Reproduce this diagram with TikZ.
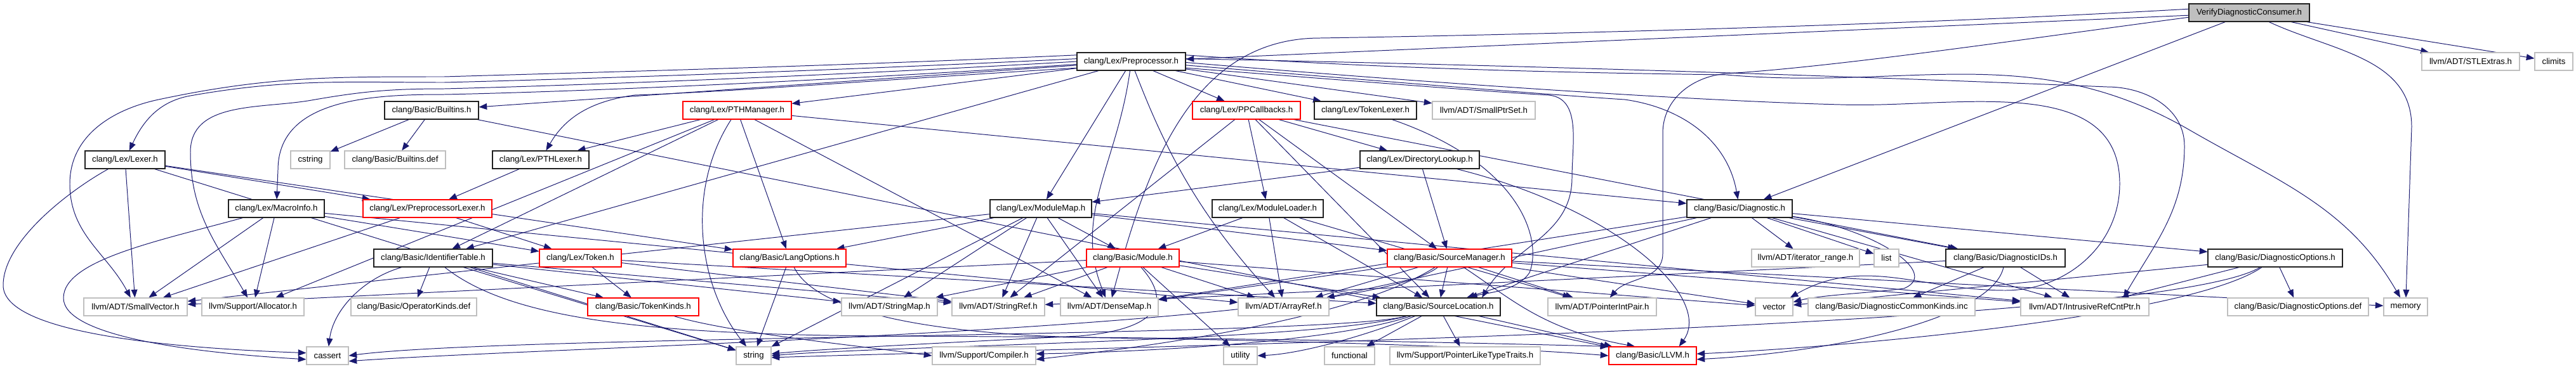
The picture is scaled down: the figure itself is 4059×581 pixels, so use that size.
\documentclass[tikz,border=0pt]{standalone}
\usepackage{fontspec}
\setmainfont{Liberation Sans}
\usetikzlibrary{arrows.meta,calc}
\definecolor{edgec}{HTML}{191970}
\definecolor{grayb}{HTML}{BFBFBF}
\definecolor{blkb}{HTML}{202020}
\newdimen\pxu
\pxu=0.025cm
\pgfdeclarelayer{bg}
\pgfsetlayers{bg,main}
\tikzset{
  nbase/.style={rectangle, draw, fill=white, line width=0.8pt, minimum height=28\pxu, inner sep=0pt, font=\fontsize{9.4}{11}\selectfont, text=black},
  blk/.style={nbase, draw=blkb},
  gry/.style={nbase, draw=grayb},
  rd/.style={nbase, draw=red},
  rootn/.style={nbase, draw=blkb, fill=grayb},
  edg/.style={draw=edgec, line width=0.7pt, -{Triangle[length=9pt,width=7pt]}},
}
\newcommand{\nb}[5]{\node[#1,minimum width=#2\pxu] (#3) at (#4) {#5};}
\begin{document}
\begin{tikzpicture}[x=0.025cm,y=-0.025cm]
\useasboundingbox (0,0) rectangle (4059,581);
% row 0
\nb{rootn}{190}{V}{3544,20}{VerifyDiagnosticConsumer.h}
% row 1
\nb{blk}{171}{PP}{1782.5,97}{clang/Lex/Preprocessor.h}
\nb{gry}{154}{STL}{3893,97}{llvm/ADT/STLExtras.h}
\nb{gry}{60}{CL}{4024,97}{climits}
% row 2
\nb{blk}{148}{BI}{680,174}{clang/Basic/Builtins.h}
\nb{rd}{171}{PTHM}{1161.5,174}{clang/Lex/PTHManager.h}
\nb{rd}{170}{PPC}{1964,174}{clang/Lex/PPCallbacks.h}
\nb{blk}{161}{TL}{2151.5,174}{clang/Lex/TokenLexer.h}
\nb{gry}{162}{SPS}{2338,174}{llvm/ADT/SmallPtrSet.h}
% row 3
\nb{blk}{126}{LEX}{197,252}{clang/Lex/Lexer.h}
\nb{gry}{62}{CSTR}{489,252}{cstring}
\nb{gry}{159}{BIdef}{622.5,252}{clang/Basic/Builtins.def}
\nb{blk}{152}{PTHL}{852,252}{clang/Lex/PTHLexer.h}
\nb{blk}{188}{DL}{2237,252}{clang/Lex/DirectoryLookup.h}
% row 4
\nb{blk}{151}{MI}{435.5,329}{clang/Lex/MacroInfo.h}
\nb{rd}{203}{PPL}{673.5,329}{clang/Lex/PreprocessorLexer.h}
\nb{blk}{160}{MM}{1640,329}{clang/Lex/ModuleMap.h}
\nb{blk}{175}{ML}{1997.5,329}{clang/Lex/ModuleLoader.h}
\nb{blk}{166}{DIAG}{2741,329}{clang/Basic/Diagnostic.h}
% row 5
\nb{blk}{187}{IT}{682.5,407}{clang/Basic/IdentifierTable.h}
\nb{rd}{129}{TOK}{914.5,407}{clang/Lex/Token.h}
\nb{rd}{178}{LO}{1244,407}{clang/Basic/LangOptions.h}
\nb{rd}{146}{MOD}{1785,407}{clang/Basic/Module.h}
\nb{rd}{196}{SM}{2284,407}{clang/Basic/SourceManager.h}
\nb{gry}{170}{ITR}{2845,407}{llvm/ADT/iterator\_range.h}
\nb{gry}{39}{LIST}{2972.5,407}{list}
\nb{blk}{188}{DIDS}{3160,407}{clang/Basic/DiagnosticIDs.h}
\nb{blk}{212}{DOPT}{3585,407}{clang/Basic/DiagnosticOptions.h}
% row 6
\nb{gry}{163}{SV}{213.5,484}{llvm/ADT/SmallVector.h}
\nb{gry}{161}{ALLOC}{398.5,484}{llvm/Support/Allocator.h}
\nb{gry}{198}{OKdef}{652,484}{clang/Basic/OperatorKinds.def}
\nb{rd}{175}{TK}{1013.5,484}{clang/Basic/TokenKinds.h}
\nb{gry}{151}{SMAP}{1401.5,484}{llvm/ADT/StringMap.h}
\nb{gry}{146}{SREF}{1573,484}{llvm/ADT/StringRef.h}
\nb{gry}{154}{DM}{1748,484}{llvm/ADT/DenseMap.h}
\nb{gry}{143}{AR}{2022.5,484}{llvm/ADT/ArrayRef.h}
\nb{blk}{195}{SL}{2266.5,484}{clang/Basic/SourceLocation.h}
\nb{gry}{171}{PIP}{2524.5,484}{llvm/ADT/PointerIntPair.h}
\nb{gry}{59}{VEC}{2795.5,484}{vector}
\nb{gry}{263}{DCK}{2980.5,484}{clang/Basic/DiagnosticCommonKinds.inc}
\nb{gry}{202}{IRC}{3285,484}{llvm/ADT/IntrusiveRefCntPtr.h}
\nb{gry}{222}{DOdef}{3621,484}{clang/Basic/DiagnosticOptions.def}
\nb{gry}{69}{MEM}{3790.5,484}{memory}
% row 7
\nb{gry}{66}{CASS}{516,561}{cassert}
\nb{gry}{55}{STR}{1187.5,561}{string}
\nb{gry}{163}{COMP}{1550.5,561}{llvm/Support/Compiler.h}
\nb{gry}{53}{UTIL}{1954.5,561}{utility}
\nb{gry}{79}{FUNC}{2126.5,561}{functional}
\nb{gry}{237}{PLT}{2308.5,561}{llvm/Support/PointerLikeTypeTraits.h}
\nb{rd}{138}{LLVM}{2604,561}{clang/Basic/LLVM.h}

\begin{pgfonlayer}{bg}
\fill[white] (0,0) rectangle (4059,581);
\foreach \a/\b in {V/PP, V/DIAG, V/STL, V/CL,
  PP/BI, PP/PTHM, PP/PPC, PP/TL, PP/SPS, PP/MM, PP/IT,
  BI/CSTR, BI/BIdef, BI/LLVM,
  PTHM/PTHL, PTHM/IT, PTHM/LO, PTHM/DM, PTHM/DIAG, PTHM/ALLOC,
  PPC/DIDS, PPC/SL, PPC/SM, PPC/DL, PPC/ML, PPC/SREF,
  LEX/LO, LEX/PPL, LEX/SV, LEX/STR,
  PTHL/PPL,
  DL/MM, DL/SM,
  MI/TOK, MI/AR, MI/SV, MI/ALLOC,
  PPL/TOK, PPL/SV,
  MM/LO, MM/SV, MM/SMAP, MM/SREF, MM/DM, MM/MOD, MM/SM, MM/IRC, MM/STR,
  ML/MOD, ML/AR, ML/SL, ML/PIP,
  DIAG/DIDS, DIAG/DOPT, DIAG/SL, DIAG/AR, DIAG/DM, DIAG/IRC, DIAG/ITR, DIAG/LIST,
  DIDS/SREF, DIDS/DCK, DIDS/IRC,
  DOPT/IRC, DOPT/VEC, DOPT/DOdef,
  IT/OKdef, IT/STR, IT/TK, IT/SMAP, IT/SREF,
  TOK/TK, TOK/SL, TOK/SREF,
  LO/STR,
  MOD/SV, MOD/SMAP, MOD/SREF, MOD/UTIL, MOD/SL, MOD/AR, MOD/VEC,
  SM/DM, SM/AR, SM/SL, SM/PIP, SM/IRC, SM/MEM, SM/VEC,
  SL/LLVM, SL/PLT, SL/FUNC}
  \draw[edg] (\a) -- (\b);
% Preprocessor: edges leaving to the left
\draw[edg] ($(PP.north west)!0.15!(PP.south west)$) .. controls (1300,105) and (900,115) .. (700,121) to[out=180,in=12] (250,157) to[out=192,in=90] (110,290) to[out=-90,in=118] (SV);
\draw[edg] ($(PP.north west)!0.35!(PP.south west)$) .. controls (1300,112) and (900,125) .. (700,130) to[out=180,in=10] (300,151) to[out=190,in=65] (LEX);
\draw[edg] ($(PP.north west)!0.5!(PP.south west)$) .. controls (1300,120) and (900,135) .. (700,140) to[out=180,in=10] (491,158) to[out=190,in=90] (300,240) to[out=-90,in=120] (ALLOC);
\draw[edg] ($(PP.north west)!0.65!(PP.south west)$) .. controls (1300,128) and (900,145) .. (700,149) to[out=180,in=90] (438,268) -- (MI);
\draw[edg] ($(PP.north west)!0.85!(PP.south west)$) .. controls (1400,125) and (1150,145) .. (1000,150) to[out=188,in=60] (PTHL);
% Preprocessor: edges leaving to the right
\draw[edg] ($(PP.north east)!0.15!(PP.south east)$) .. controls (2200,110) and (2500,115) .. (2720,118) to[out=-5,in=150] (3450,205) to[out=-30,in=120] (MEM);
\draw[edg] ($(PP.north east)!0.35!(PP.south east)$) .. controls (2600,107) and (3150,130) .. (3320,137) to[out=0,in=90] (3442,230) to[out=-90,in=60] ($(IRC.north west)!0.8!(IRC.north east)$);
\draw[edg] ($(PP.north east)!0.55!(PP.south east)$) .. controls (2300,135) and (2700,160) .. (2900,165) to[out=-2,in=90] (3340,290) to[out=-90,in=0] (3160,458) to[out=180,in=30] (VEC);
\draw[edg] ($(PP.north east)!0.7!(PP.south east)$) .. controls (2200,130) and (2450,150) .. (2560,157) to[out=-8,in=100] (DIAG);
\draw[edg] ($(PP.north east)!0.85!(PP.south east)$) .. controls (2100,125) and (2350,145) .. (2440,150) to[out=-5,in=90] (2477,280) to[out=-90,in=60] ($(SL.north west)!0.85!(SL.north east)$);
\draw[edg] (PP) .. controls (1760,260) and (1690,340) .. (DM);
\draw[edg] (PP) .. controls (1830,220) and (1880,330) .. (AR);
% VerifyDiagnosticConsumer
\draw[edg] ($(V.north west)!0.75!(V.south west)$) .. controls (3200,60) and (2900,105) .. (2720,116) to[out=185,in=90] (2620,210) -- (2620,400) to[out=-90,in=50] (PIP);
\draw[edg] ($(V.north west)!0.3!(V.south west)$) .. controls (3000,40) and (2400,55) .. (2080,60) to[out=180,in=75] (DM);
\draw[edg] (V) to[out=-25,in=90] (3800,200) -- (MEM);
% cassert from the left
\draw[edg] (LEX) .. controls (110,300) and (5,380) .. (5,450) .. controls (5,530) and (300,550) .. ($(CASS.north west)!0.35!(CASS.south west)$);
\draw[edg] (MI) .. controls (250,380) and (100,410) .. (100,470) .. controls (100,530) and (300,556) .. ($(CASS.north west)!0.7!(CASS.south west)$);
\draw[edg] (IT) .. controls (570,440) and (525,490) .. (CASS);
% channel between the two lowest rows
\draw[edg] (SL) .. controls (2100,532) and (800,528) .. ($(CASS.north east)!0.5!(CASS.south east)$);
\draw[edg] (SM) .. controls (2140,520) and (900,545) .. ($(CASS.north east)!0.8!(CASS.south east)$);
\draw[edg] (SL) .. controls (2080,538) and (1400,545) .. ($(STR.north east)!0.5!(STR.south east)$);
\draw[edg] (MOD) .. controls (1850,480) and (1820,520) .. (1700,530) .. controls (1500,540) and (1300,550) .. ($(STR.north east)!0.4!(STR.south east)$);
\draw[edg] (DOPT) .. controls (3400,520) and (1700,548) .. ($(STR.north east)!0.6!(STR.south east)$);
\draw[edg] (SL) .. controls (2100,540) and (1800,555) .. ($(COMP.north east)!0.4!(COMP.south east)$);
\draw[edg] (SM) .. controls (2130,505) and (1800,548) .. ($(COMP.north east)!0.7!(COMP.south east)$);
\draw[edg] (SL) .. controls (2150,530) and (2050,558) .. (UTIL.east);
\draw[edg] (DOPT) .. controls (3450,500) and (2900,548) .. ($(LLVM.north east)!0.4!(LLVM.south east)$);
\draw[edg] (DIDS) .. controls (3140,500) and (2900,555) .. ($(LLVM.north east)!0.7!(LLVM.south east)$);
\draw[edg] (LO) .. controls (1290,500) and (1500,530) .. (1750,533) .. controls (2100,538) and (2400,550) .. (LLVM.west);
\draw[edg] (IT) .. controls (800,500) and (1000,528) .. (1400,530) .. controls (1900,532) and (2300,540) .. (LLVM.north west);
\draw[edg] (TK) .. controls (1150,525) and (1350,545) .. (COMP.west);
% other curved edges
\draw[edg] (PTHM) .. controls (1080,300) and (1100,450) .. (STR);
\draw[edg] (DL) .. controls (2550,330) and (2700,470) .. ($(LLVM.north)!0.6!(LLVM.north east)$);
\draw[edg] (SM) .. controls (2380,470) and (2430,520) .. ($(LLVM.north west)!0.3!(LLVM.north east)$);
\draw[edg] (DIAG) .. controls (2950,360) and (3060,430) .. (3000,455) .. controls (2950,462) and (2870,465) .. (VEC);
\draw[edg] (TL) .. controls (2400,260) and (2430,380) .. (2410,430) .. controls (2390,460) and (2340,462) .. (SL);
\end{pgfonlayer}
\end{tikzpicture}
\end{document}
